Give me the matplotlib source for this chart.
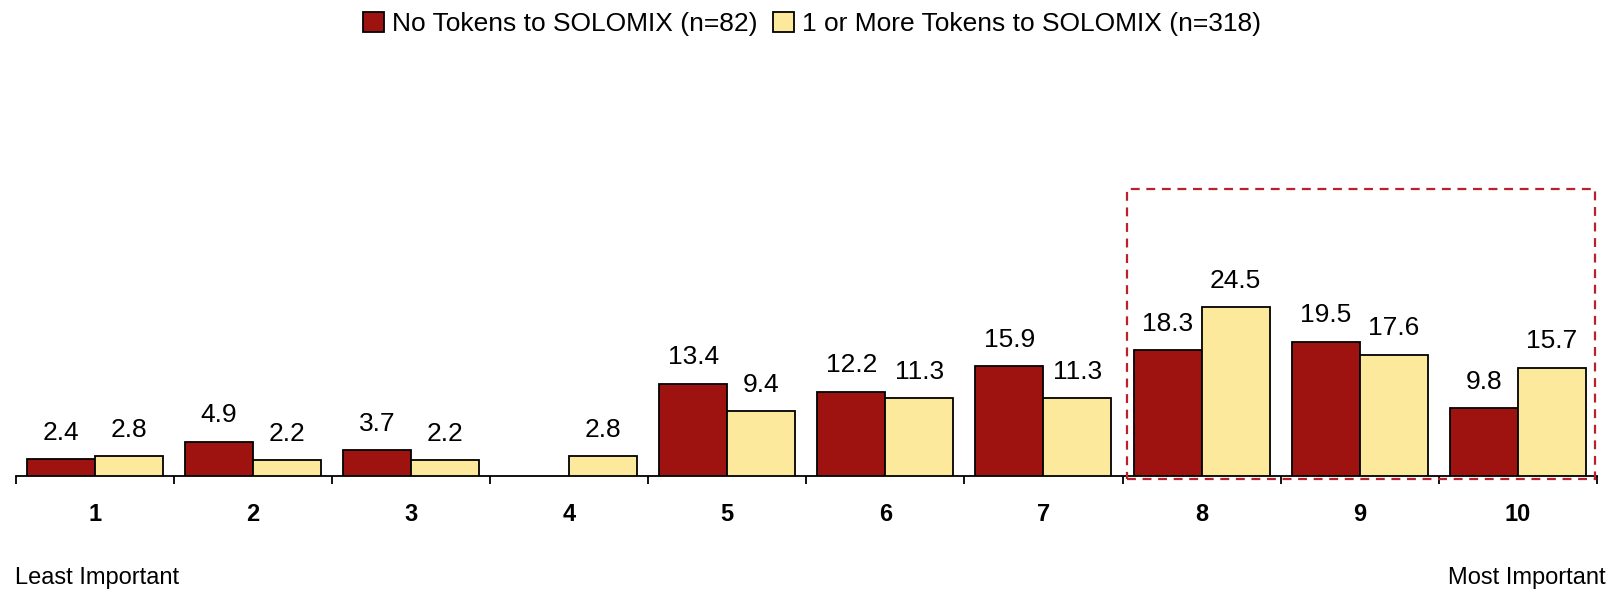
import numpy as np
import matplotlib
matplotlib.use("Agg")
import matplotlib.pyplot as plt
from matplotlib.patches import Rectangle

plt.rcParams['font.family'] = ['Liberation Sans Narrow', 'Liberation Sans', 'DejaVu Sans']

categories = ["1", "2", "3", "4", "5", "6", "7", "8", "9", "10"]
series_names = ["No Tokens to SOLOMIX (n=82)", "1 or More Tokens to SOLOMIX (n=318)"]
no_tokens = [2.4, 4.9, 3.7, np.nan, 13.4, 12.2, 15.9, 18.3, 19.5, 9.8]
some_tokens = [2.8, 2.2, 2.2, 2.8, 9.4, 11.3, 11.3, 24.5, 17.6, 15.7]
colors = ["#9E1310", "#FCE99B"]

W, H = 16.24, 5.91
fig = plt.figure(figsize=(W, H), dpi=100)
ax = fig.add_axes([15.5 / 1624, 1 - 475.5 / 591, (1597 - 15.5) / 1624, 308.7 / 591])

x = np.arange(len(categories))
bw = 0.43
for vals, off, col, name in [(no_tokens, -bw / 2, colors[0], series_names[0]),
                             (some_tokens, bw / 2, colors[1], series_names[1])]:
    v = np.array(vals, dtype=float)
    mask = ~np.isnan(v)
    ax.bar(x[mask] + off, v[mask], width=bw, color=col, edgecolor="black",
           linewidth=1.3, label=name, zorder=3)
    for xi, vi in zip(x[mask] + off, v[mask]):
        ax.annotate(f"{vi:.1f}", (xi, vi), xytext=(0, 14), textcoords="offset points",
                    ha="center", va="baseline", fontsize=19)

ax.set_xlim(-0.5, len(categories) - 0.5)
ax.set_ylim(0, 45)
for s in ["top", "right", "left"]:
    ax.spines[s].set_visible(False)
ax.spines["bottom"].set_linewidth(1.3)
ax.set_yticks([])
ax.set_xticks(x)
ax.set_xticklabels(categories, fontsize=17, fontweight="bold")
ax.tick_params(axis="x", which="major", length=0, pad=20)
ax.set_xticks(np.arange(-0.5, len(categories), 1.0), minor=True)
ax.tick_params(axis="x", which="minor", length=6, width=1.3, direction="out")

# highlight box around 8-10
ax.add_patch(Rectangle((6.53, -0.45), 9.49 - 6.53, 41.7 + 0.45, fill=False,
                       edgecolor="#B8232B", linestyle=(0, (4, 3)), linewidth=1.6,
                       clip_on=False, zorder=4))

fig.text(15 / 1624, 1 - 578 / 591, "Least Important", fontsize=17, ha="left", va="center")
fig.text(1606 / 1624, 1 - 578 / 591, "Most Important", fontsize=17, ha="right", va="center")

fig.legend(loc="center", bbox_to_anchor=(0.5, 1 - 24 / 591), ncol=2, frameon=False,
           fontsize=19, handlelength=0.8, handleheight=0.8, handletextpad=0.3,
           columnspacing=0.6)

fig.savefig("out.png", dpi=100)
